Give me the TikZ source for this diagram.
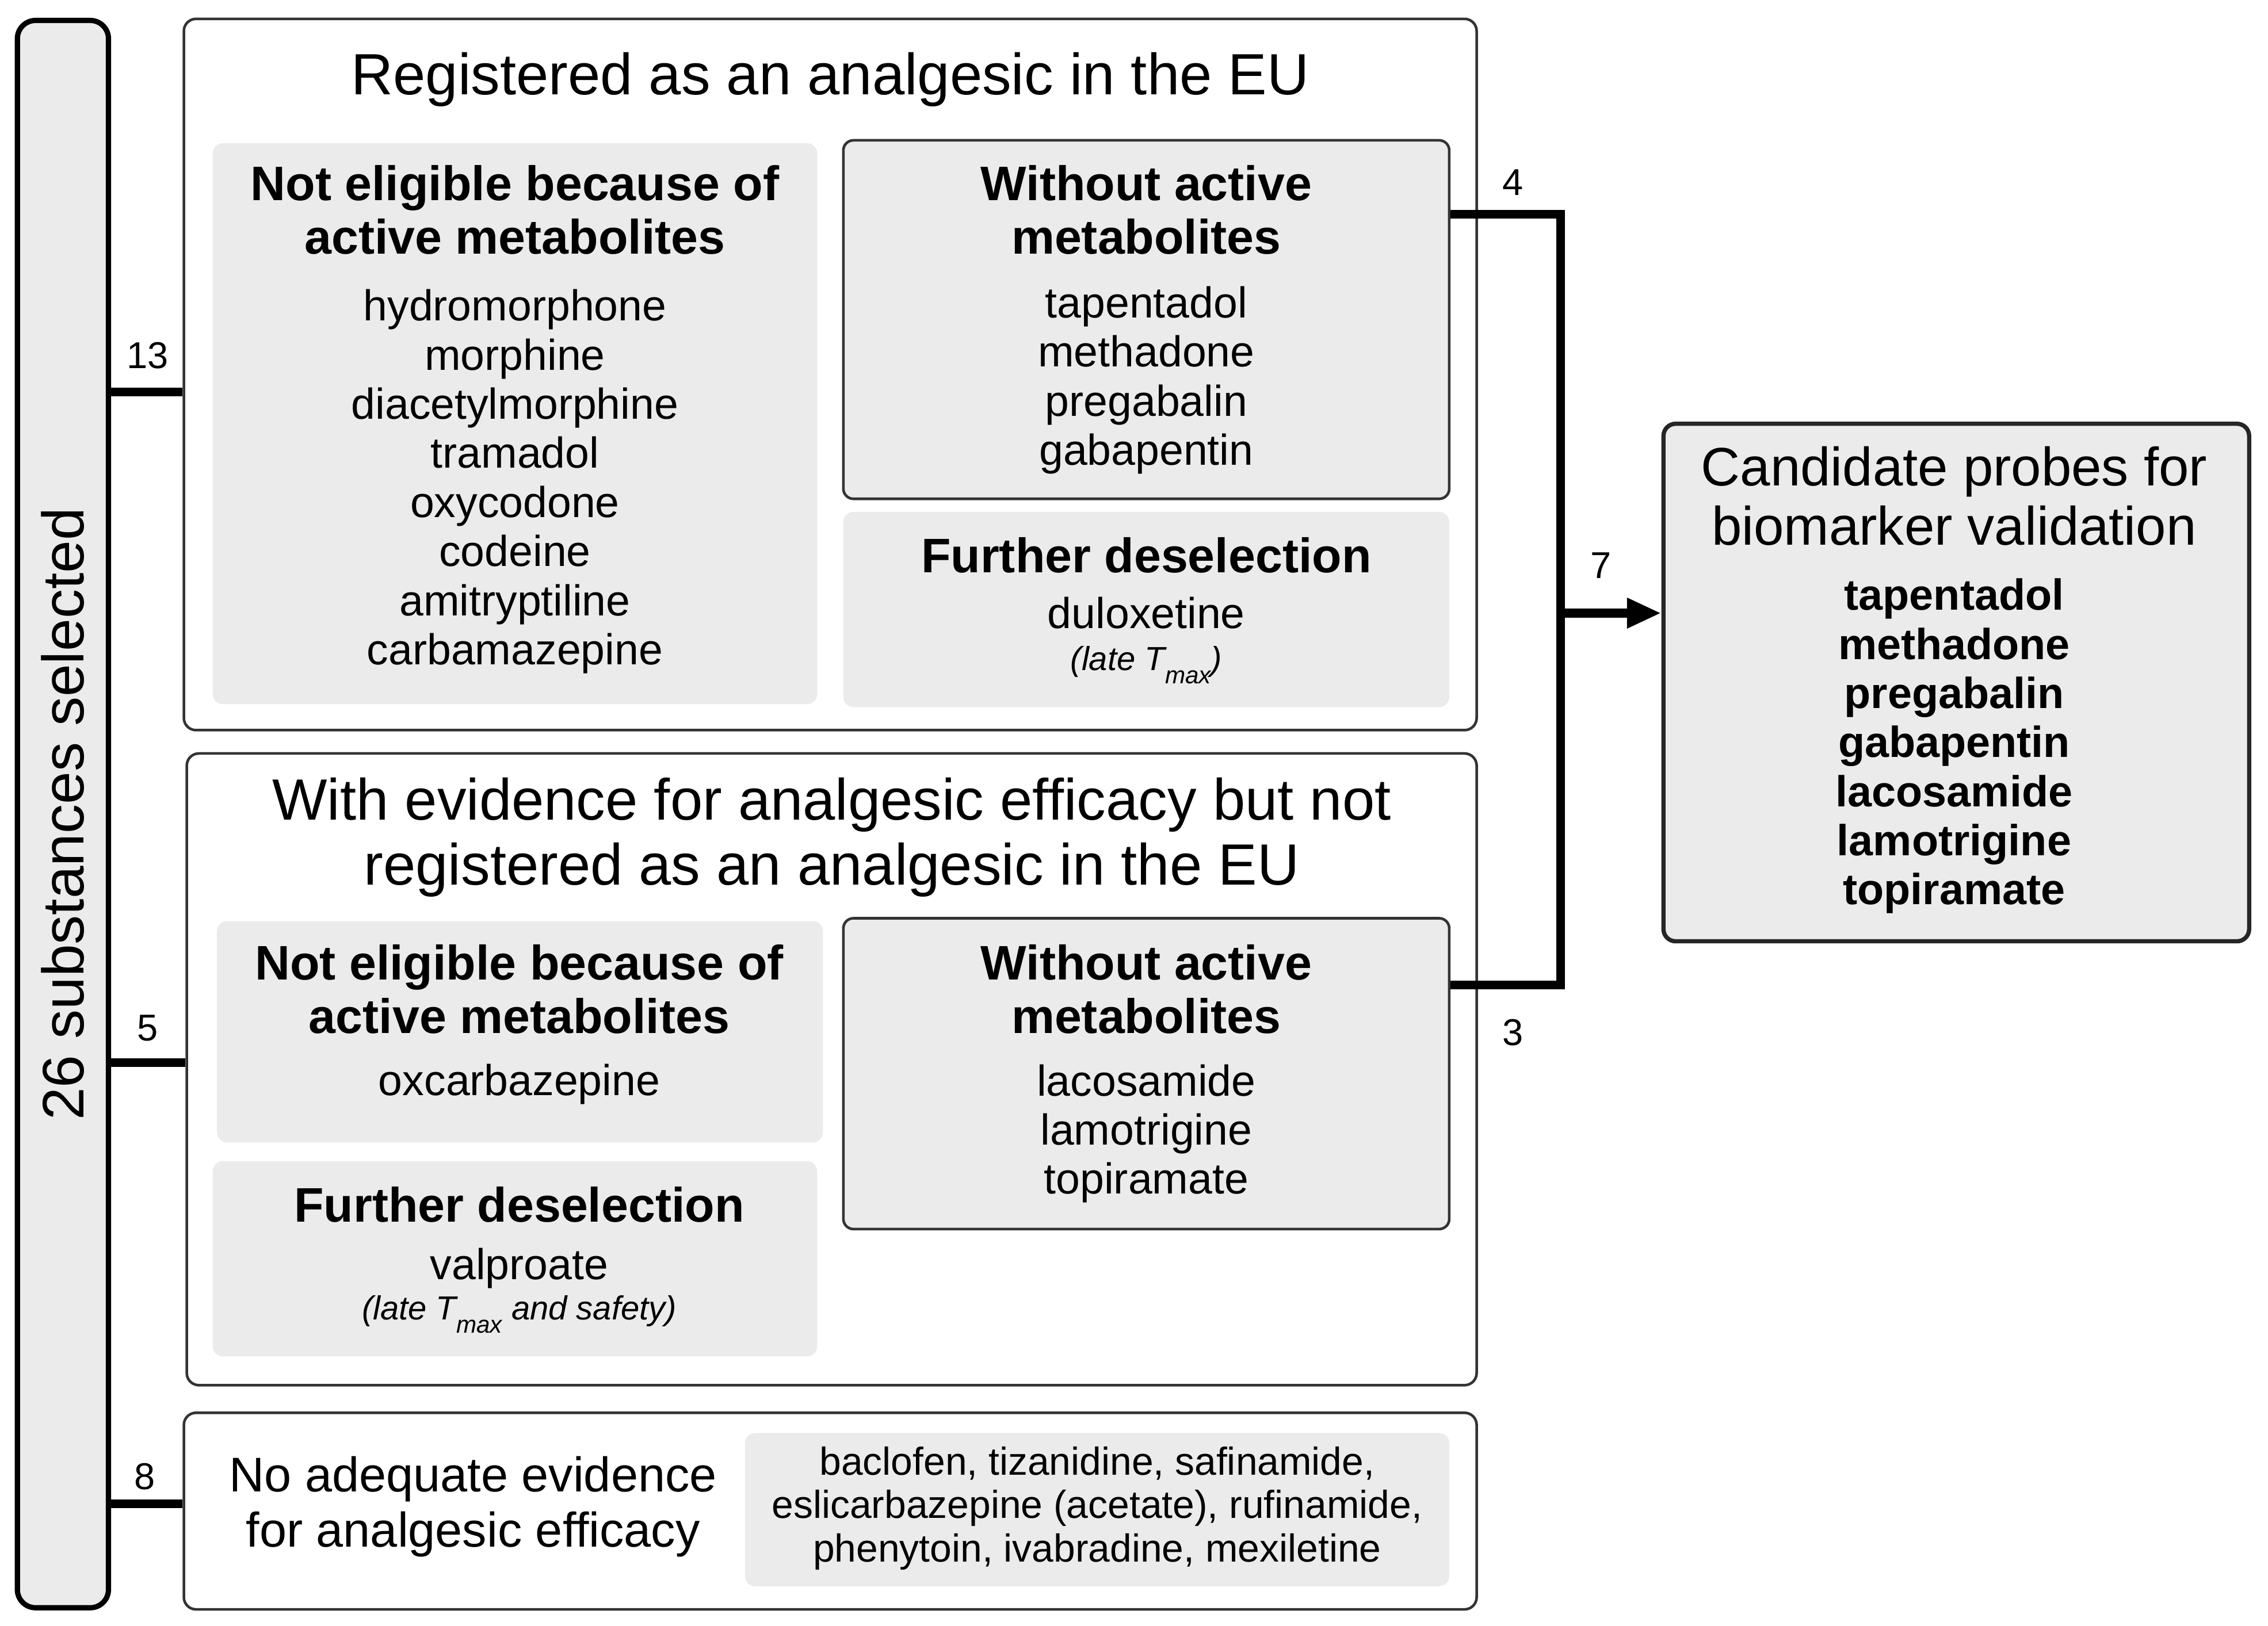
\documentclass[tikz,border=0pt]{standalone}
\usepackage{fontspec}
\setmainfont{Liberation Sans}
\usetikzlibrary{arrows.meta,calc}
\definecolor{panelgray}{HTML}{EBEBEB}
\newcommand{\du}{0.7153pt}
\newcommand{\fsz}[2]{\fontsize{#1}{#2}\selectfont}
\newcommand{\tmax}{T\raisebox{-0.4em}{\fsz{12}{12}max}}
\tikzset{%
    outerbox/.style={draw=black!80, line width=1.3pt, fill=white, rounded corners=6pt},
    graybox/.style={fill=panelgray, rounded corners=5pt},
    framedbox/.style={graybox, draw=black!80, line width=1.3pt},
    selbar/.style={fill=panelgray, draw=black, line width=2.6pt, rounded corners=9pt},
    candbox/.style={fill=panelgray, draw=black!85, line width=2.1pt, rounded corners=6pt},
    bigtitle/.style={align=center, font=\fsz{28.8}{32.2}},
    subtitle/.style={align=center, font=\bfseries\fsz{24}{26.5}},
    itemlist/.style={align=center, font=\fsz{21.4}{24.3}},
    note/.style={align=center, font=\itshape\fsz{16.5}{18}},
    count/.style={font=\fsz{18.5}{20}},
    link/.style={line width=4.3pt}
}
\begin{document}
\begin{tikzpicture}[x=0.02514cm, y=-0.02514cm]
\useasboundingbox (0,0) rectangle (1568,1124.1);

% left bar
\node[selbar, minimum width=63*\du, minimum height=1098*\du] (sel) at (43.5,563) {};
\node[rotate=90, font=\fsz{29}{31}] (seltext) at (sel.center) {26 substances selected};

% registered as an analgesic
\node[outerbox, minimum width=894*\du, minimum height=492*\du] (reg) at (574,259) {};
\node[bigtitle] (regtitle) at (574,55) {Registered as an analgesic in the EU};
\node[graybox, minimum width=418*\du, minimum height=388*\du] (ne1) at (356,293) {};
\node[subtitle] (ne1title) at (356,145) {Not eligible because of\\active metabolites};
\node[itemlist] (ne1items) at (356,333) {hydromorphone\\morphine\\diacetylmorphine\\tramadol\\oxycodone\\codeine\\amitryptiline\\carbamazepine};
\node[framedbox, minimum width=419*\du, minimum height=248*\du] (wo1) at (792.5,221) {};
\node[subtitle] (wo1title) at (792.5,145) {Without active\\metabolites};
\node[itemlist] (wo1items) at (792.5,263) {tapentadol\\methadone\\pregabalin\\gabapentin};
\node[graybox, minimum width=419*\du, minimum height=135*\du] (fd1) at (792.5,421.5) {};
\node[subtitle] (fd1title) at (792.5,384) {Further deselection};
\node[itemlist] (fd1item) at (792.5,424) {duloxetine};
\node[note] (fd1note) at (792.5,460) {(late \tmax)};

% evidence but not registered
\node[outerbox, minimum width=892*\du, minimum height=437*\du] (evid) at (575,739.5) {};
\node[bigtitle] (evidtitle) at (575,579) {With evidence for analgesic efficacy but not\\registered as an analgesic in the EU};
\node[graybox, minimum width=419*\du, minimum height=153*\du] (ne2) at (359.5,713.5) {};
\node[subtitle] (ne2title) at (359,684) {Not eligible because of\\active metabolites};
\node[itemlist] (ne2item) at (359,750) {oxcarbazepine};
\node[graybox, minimum width=418*\du, minimum height=135*\du] (fd2) at (356,870.5) {};
\node[subtitle] (fd2title) at (359,833) {Further deselection};
\node[itemlist] (fd2item) at (359,877) {valproate};
\node[note] (fd2note) at (359,909) {(late \tmax\ and safety)};
\node[framedbox, minimum width=419*\du, minimum height=215*\du] (wo2) at (792.5,742.5) {};
\node[subtitle] (wo2title) at (792.5,684) {Without active\\metabolites};
\node[itemlist] (wo2items) at (792.5,784) {lacosamide\\lamotrigine\\topiramate};

% no evidence
\node[outerbox, minimum width=894*\du, minimum height=136*\du] (noev) at (574,1045) {};
\node[align=center, font=\fsz{24.1}{27.2}] (noevtext) at (327,1042) {No adequate evidence\\for analgesic efficacy};
\node[graybox, minimum width=487*\du, minimum height=106*\du] (rest) at (758.5,1044) {};
\node[align=center, font=\fsz{19.3}{21.5}] (resttext) at (758.5,1043) {baclofen, tizanidine, safinamide,\\eslicarbazepine (acetate), rufinamide,\\phenytoin, ivabradine, mexiletine};

% result
\node[candbox, minimum width=405*\du, minimum height=358*\du] (cand) at (1352.5,472) {};
\node[align=center, font=\fsz{26.8}{29.3}] (candtitle) at (1351,343) {Candidate probes for\\biomarker validation};
\node[align=center, font=\bfseries\fsz{21.5}{24.3}] (canditems) at (1351,516) {tapentadol\\methadone\\pregabalin\\gabapentin\\lacosamide\\lamotrigine\\topiramate};

% connectors
\coordinate (r13) at ($(reg.west)+(0,12)$);
\coordinate (r5) at ($(evid.west)+(0,-4.5)$);
\coordinate (r8) at ($(noev.west)+(0,-5)$);
\draw[link] (sel.east |- r13) -- (r13);
\draw[link] (sel.east |- r5) -- (r5);
\draw[link] (sel.east |- r8) -- (r8);
\node[count] (n13) at (102,246) {13};
\node[count] (n5) at (102,711) {5};
\node[count] (n8) at (100,1021) {8};

\coordinate (w1) at ($(wo1.east)+(0,-73)$);
\coordinate (w2) at ($(wo2.east)+(0,-61.5)$);
\coordinate (jn) at (1079,424);
\draw[link, line join=miter] (w1) -| (jn |- w2) -- (w2);
\draw[link, -{Triangle[length=17pt, width=14pt]}] (jn) -- (jn -| cand.west);
\node[count] (n4) at (1046,126) {4};
\node[count] (n3) at (1046,714) {3};
\node[count] (n7) at (1107,391) {7};
\end{tikzpicture}
\end{document}
